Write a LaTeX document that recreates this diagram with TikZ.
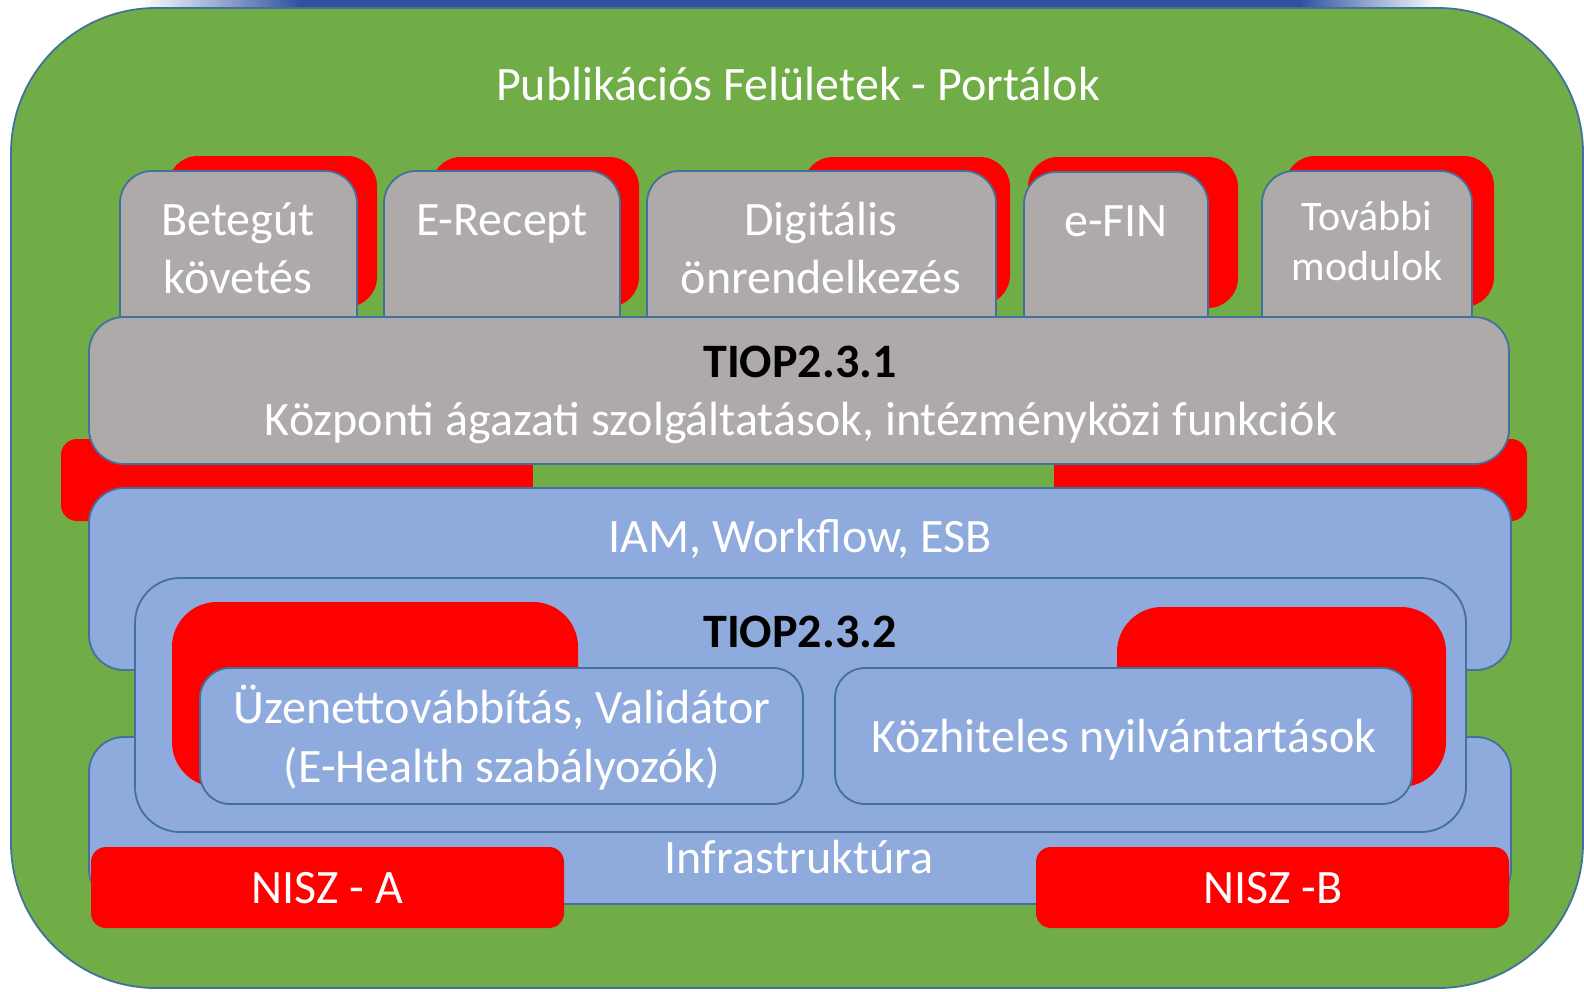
\documentclass[tikz,border=0pt]{standalone}
\usepackage{fontspec}
\setmainfont{Carlito}
\definecolor{grn}{HTML}{70AD47}
\definecolor{boxgray}{HTML}{AEAAAA}
\definecolor{boxblue}{HTML}{8FAADC}
\definecolor{edge}{HTML}{41719C}
\definecolor{topblue}{HTML}{2F52A0}
\definecolor{redx}{HTML}{FF0000}
\tikzset{
  graybox/.style={fill=boxgray, draw=edge, line width=1.8pt, rounded corners=32pt},
  bluebox/.style={fill=boxblue, draw=edge, line width=1.8pt, rounded corners=35pt},
  redsh/.style={fill=redx, rounded corners=30pt},
  lbl/.style={text=white, anchor=base, inner sep=0pt, font=\fontsize{48}{56}\selectfont},
  lblsmall/.style={lbl, font=\fontsize{42}{50}\selectfont},
  blbl/.style={text=black, anchor=base, inner sep=0pt, font=\fontsize{48}{56}\selectfont\bfseries}
}
\begin{document}
\begin{tikzpicture}[x=1pt,y=-1pt]
\useasboundingbox (0,0) rectangle (1584,991);
% top strip
\shade[left color=white, right color=topblue] (140,0) rectangle (300,7);
\fill[topblue] (299,0) rectangle (1301,7);
\shade[left color=topblue, right color=white] (1300,0) rectangle (1440,7);
% main green panel
\draw[fill=grn, draw=edge, line width=1.8pt, rounded corners=145pt] (11,8) rectangle (1583,988);
% module shadows
\fill[redsh] (168,156) rectangle (377,307);
\fill[redsh] (431,157) rectangle (639,307);
\fill[redsh] (803,157) rectangle (1010,305);
\fill[redsh] (1028,157) rectangle (1238,308);
\fill[redsh] (1285,156) rectangle (1494,307);
% module boxes
\draw[graybox] (120,171) rectangle (357,360);
\draw[graybox] (384,171) rectangle (620,360);
\draw[graybox] (647,171) rectangle (996,360);
\draw[graybox] (1024,172) rectangle (1208,360);
\draw[graybox] (1262,171) rectangle (1472,360);
% red band
\fill[redsh, rounded corners=16pt] (61,439) rectangle (1527,521);
\fill[grn] (533,430) rectangle (1054,500);
% TIOP 2.3.1
\draw[graybox, rounded corners=35pt] (89,317) rectangle (1509,464);
% IAM layer
\draw[bluebox] (89,488) rectangle (1511,670);
% Infrastructure layer
\draw[bluebox] (89,737) rectangle (1511,904);
% TIOP 2.3.2
\draw[bluebox, rounded corners=45pt] (135,578) rectangle (1466,832);
\fill[redsh, rounded corners=45pt] (172,602) rectangle (578,787);
\fill[redsh, rounded corners=45pt] (1117,607) rectangle (1446,787);
\draw[bluebox, rounded corners=30pt] (200,668) rectangle (803,804);
\draw[bluebox, rounded corners=30pt] (835,668) rectangle (1412,804);
% NISZ
\fill[redsh, rounded corners=15pt] (91,847) rectangle (564,928);
\fill[redsh, rounded corners=15pt] (1036,847) rectangle (1509,928);
% texts
\node[lbl] (title) at (798,100) {Publikációs Felületek - Portálok};
\node[lbl] (bet1) at (238,235) {Betegút};
\node[lbl] (bet2) at (238,293) {követés};
\node[lbl] (erec) at (502,235) {E-Recept};
\node[lbl] (dig1) at (821,235) {Digitális};
\node[lbl] (dig2) at (821,293) {önrendelkezés};
\node[lbl] (efin) at (1116,236) {e-FIN};
\node[lblsmall] (tov1) at (1367,230) {További};
\node[lblsmall] (tov2) at (1367,280) {modulok};
\node[blbl] (tiopa) at (800,377) {TIOP2.3.1};
\node[lbl] (kozp) at (801,435) {Központi ágazati szolgáltatások, intézményközi funkciók};
\node[lbl] (iam) at (800,552) {IAM, Workflow, ESB};
\node[blbl] (tiopb) at (800,647) {TIOP2.3.2};
\node[lbl] (uz1) at (502,723) {Üzenettovábbítás, Validátor};
\node[lbl] (uz2) at (502,782) {(E-Health szabályozók)};
\node[lbl] (kozh) at (1124,752) {Közhiteles nyilvántartások};
\node[lbl] (infra) at (799,873) {Infrastruktúra};
\node[lbl] (niszA) at (327,903) {NISZ - A};
\node[lbl] (niszB) at (1273,903) {NISZ -B};
\end{tikzpicture}
\end{document}
